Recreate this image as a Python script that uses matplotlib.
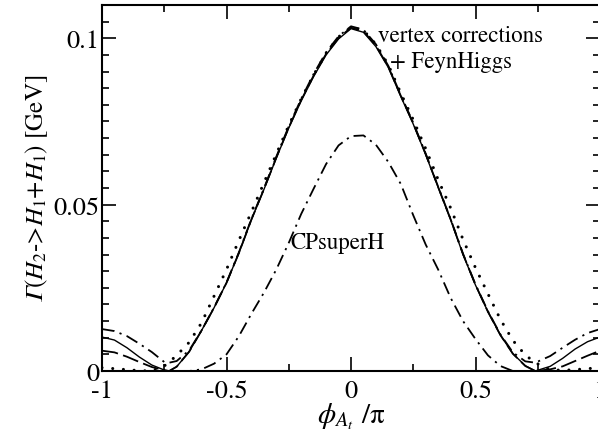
import numpy as np
import matplotlib
matplotlib.use("Agg")
import matplotlib.pyplot as plt

plt.rcParams['font.family'] = 'STIXGeneral'
plt.rcParams['mathtext.fontset'] = 'stix'
plt.rcParams['axes.unicode_minus'] = False

# phi_At / pi sample points
phi = [-1.0, -0.95, -0.9, -0.85, -0.8, -0.75, -0.73, -0.7, -0.65, -0.6, -0.55,
       -0.5, -0.45, -0.4, -0.35, -0.3, -0.25, -0.2, -0.15, -0.1, -0.05, 0.0,
       0.05, 0.1, 0.15, 0.2, 0.25, 0.3, 0.35, 0.4, 0.45, 0.5, 0.55, 0.6,
       0.65, 0.7, 0.74, 0.8, 0.85, 0.9, 0.95, 1.0]

# vertex corrections + FeynHiggs (solid)
g_solid = [0.0102, 0.0093, 0.0070, 0.0042, 0.0018, 0.0003, 0.0, 0.0013, 0.0058,
           0.0122, 0.0190, 0.0265, 0.0355, 0.0455, 0.0545, 0.0640, 0.0730,
           0.0812, 0.0885, 0.0950, 0.0998, 0.1029, 0.1018, 0.0975, 0.0912,
           0.0825, 0.0742, 0.0650, 0.0552, 0.0455, 0.0350, 0.0258, 0.0178,
           0.0108, 0.0052, 0.0016, 0.0, 0.0014, 0.0038, 0.0066, 0.0088, 0.0102]

# dashed
g_dash = [0.0061, 0.0056, 0.0043, 0.0027, 0.0012, 0.0002, 0.0, 0.0013, 0.0058,
          0.0122, 0.0190, 0.0265, 0.0355, 0.0455, 0.0546, 0.0641, 0.0732,
          0.0814, 0.0888, 0.0953, 0.1001, 0.1032, 0.1021, 0.0978, 0.0914,
          0.0827, 0.0744, 0.0652, 0.0553, 0.0456, 0.0351, 0.0259, 0.0178,
          0.0108, 0.0052, 0.0015, 0.0, 0.0005, 0.0014, 0.0030, 0.0046, 0.0061]

# dash-dot (upper)
g_dashdot = [0.0126, 0.0120, 0.0105, 0.0082, 0.0057, 0.0027, 0.0025, 0.0030, 0.0062,
             0.0122, 0.0191, 0.0266, 0.0357, 0.0457, 0.0548, 0.0644, 0.0735,
             0.0818, 0.0893, 0.0958, 0.1006, 0.1036, 0.1026, 0.0982, 0.0917,
             0.0829, 0.0746, 0.0653, 0.0554, 0.0457, 0.0352, 0.0260, 0.0180,
             0.0110, 0.0056, 0.0029, 0.0025, 0.0045, 0.0070, 0.0094, 0.0114, 0.0126]

# dotted
g_dot = [0.0010, 0.0007, 0.0004, 0.0001, 0.0, 0.0015, 0.0027, 0.0047, 0.0086,
         0.0145, 0.0225, 0.0305, 0.0393, 0.0478, 0.0565, 0.0652, 0.0738,
         0.0818, 0.0890, 0.0955, 0.1004, 0.1033, 0.1024, 0.0982, 0.0920,
         0.0835, 0.0755, 0.0668, 0.0575, 0.0490, 0.0395, 0.0310, 0.0232,
         0.0155, 0.0092, 0.0048, 0.0025, 0.0004, 0.0002, 0.0004, 0.0007, 0.0010]

# CPsuperH (lower dash-dot)
g_cps = [0.0, 0.0, 0.0, 0.0, 0.0, 0.0, 0.0, 0.0, 0.0,
         0.0005, 0.0022, 0.0050, 0.0105, 0.0172, 0.0235, 0.0305, 0.0385,
         0.0472, 0.0548, 0.0622, 0.0678, 0.0706, 0.0708, 0.0680, 0.0628,
         0.0562, 0.0468, 0.0380, 0.0305, 0.0220, 0.0150, 0.0096, 0.0047,
         0.0015, 0.0, 0.0, 0.0, 0.0, 0.0, 0.0, 0.0, 0.0]

fig = plt.figure(figsize=(5.98, 4.39), dpi=100)
ax = fig.add_axes([102/598, 1-372/439, 498/598, 366/439])

ax.plot(phi, g_cps, color='black', lw=1.3, ls=(0, (7, 3, 1.2, 3)))
ax.plot(phi, g_dot, color='black', lw=2.2, ls=(0, (0.01, 3.5)), dash_capstyle='round')
ax.plot(phi, g_dashdot, color='black', lw=1.3, ls=(0, (7, 3, 1.2, 3)))
ax.plot(phi, g_dash, color='black', lw=1.3, ls=(0, (9, 3)))
ax.plot(phi, g_solid, color='black', lw=1.0)

ax.set_xlim(-1, 1)
ax.set_ylim(0, 0.11)
ax.set_xticks([-1, -0.5, 0, 0.5, 1])
ax.set_xticklabels(['-1', '-0.5', '0', '0.5', '1'])
ax.set_xticks(np.arange(-1, 1.01, 0.25), minor=True)
ax.set_yticks([0, 0.05, 0.1])
ax.set_yticklabels(['0', '0.05', '0.1'])
ax.set_yticks(np.arange(0, 0.1101, 0.005), minor=True)
ax.tick_params(which='both', direction='in', top=True, right=True, labelsize=19, width=1.2)
ax.tick_params(which='major', length=10)
ax.tick_params(which='minor', length=5)
ax.tick_params(axis='x', which='major', pad=6)
ax.tick_params(axis='y', which='major', pad=2)
for s in ax.spines.values():
    s.set_linewidth(1.5)

ax.text(0.108, 0.1010, 'vertex corrections', fontsize=16.5, va='center', ha='left')
ax.text(0.155, 0.0932, '+ FeynHiggs', fontsize=16.5, va='center', ha='left')
ax.text(-0.242, 0.0386, 'CPsuperH', fontsize=16.5, va='center', ha='left')

ax.set_xlabel(r'$\phi_{A_t}$ /π', fontsize=21, labelpad=-2)
ax.set_ylabel('$\U0001D6E4(H_2$->$H_1$+$H_1$) [GeV]', fontsize=18, labelpad=2)

fig.savefig('out.png', dpi=100)
